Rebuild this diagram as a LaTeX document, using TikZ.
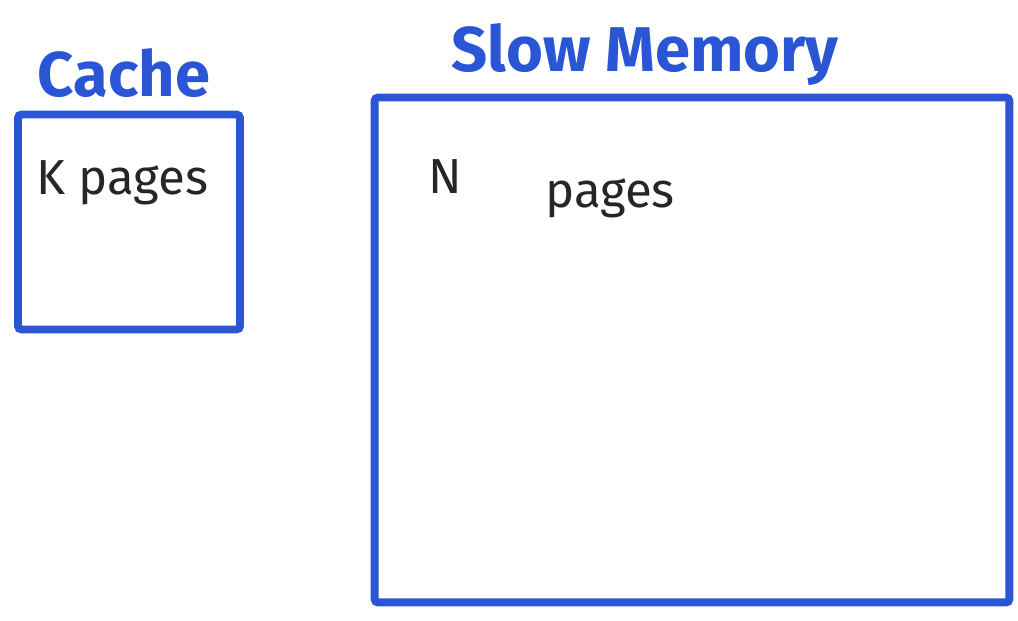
\documentclass[tikz,border=0pt]{standalone}
\usepackage{fontspec}
\setmainfont{Fira Sans}
\usepackage{xcolor}
\usetikzlibrary{positioning}
\definecolor{penblue}{HTML}{2A56D6}

\begin{document}
\begin{tikzpicture}[
x=0.02cm,y=-0.02cm,
node distance=0.3cm,
box/.style={
draw=penblue,
line width=4.5pt,
rounded corners=2pt,
inner sep=0pt
},
title/.style={
text=penblue,
font=\fontsize{36}{40}\selectfont\bfseries,
inner sep=0pt
},
note/.style={
text=black!85,
font=\fontsize{28}{32}\selectfont,
inner sep=0pt
}
]
\useasboundingbox (0,0) rectangle (1018,621);

\node[box,minimum width=4.44cm,minimum height=4.3cm] (cache) at (129,222) {};
\node[box,minimum width=12.7cm,minimum height=10.1cm] (memory) at (692,350) {};

\node[title,above=0.25cm of cache,xshift=-0.1cm] (cachelabel) {Cache};
\node[title,above=0.15cm of memory,xshift=-0.94cm] (memlabel) {Slow Memory};

\node[note,below right=1.45cm and 0.45cm of cache.north west,anchor=west] (kpages) {K pages};
\node[note,below right=1.65cm and 1.15cm of memory.north west,anchor=west] (nletter) {N};
\node[note,right=1.65cm of nletter,yshift=-0.45cm] (npages) {pages};

\end{tikzpicture}
\end{document}
